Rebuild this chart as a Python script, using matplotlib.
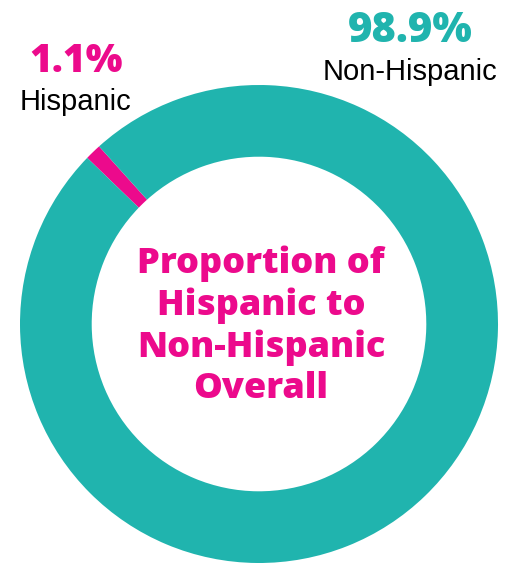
import matplotlib.pyplot as plt

labels = ["Hispanic", "Non-Hispanic"]
shares = [1.1, 98.9]
colors = ["#EC0A8C", "#20B4AE"]
title = "Proportion of\nHispanic to\nNon-Hispanic\nOverall"

W, H = 515, 565
fig = plt.figure(figsize=(W / 100, H / 100), dpi=100)
ax = fig.add_axes([0, 0, 1, 1])

# donut in pixel space, centre (259, 324) from top
cx, cy, r = 259, H - 324, 239
ax.pie(shares, colors=colors, startangle=132, counterclock=True,
       center=(cx, cy), radius=r, frame=True,
       wedgeprops=dict(width=r * 0.30, linewidth=0))
ax.set_xlim(0, W)
ax.set_ylim(0, H)
ax.set_aspect("equal")
ax.axis("off")

heavy = "Open Sans"
ax.text(cx + 2, H - 326, title, ha="center", va="center", color=colors[0],
        fontsize=26, fontweight=800, family=heavy, linespacing=1.2)

# value + name labels
ax.text(410, H - 42, f"{shares[1]}%", ha="center", va="baseline",
        color=colors[1], fontsize=30, fontweight=800, family=heavy)
ax.text(410, H - 80, labels[1], ha="center", va="baseline",
        color="black", fontsize=21, family="Liberation Sans")
ax.text(76, H - 72, f"{shares[0]}%", ha="center", va="baseline",
        color=colors[0], fontsize=28, fontweight=800, family=heavy)
ax.text(76, H - 110, labels[0], ha="center", va="baseline",
        color="black", fontsize=21, family="Liberation Sans")

fig.savefig("out.png", dpi=100, facecolor="white")
